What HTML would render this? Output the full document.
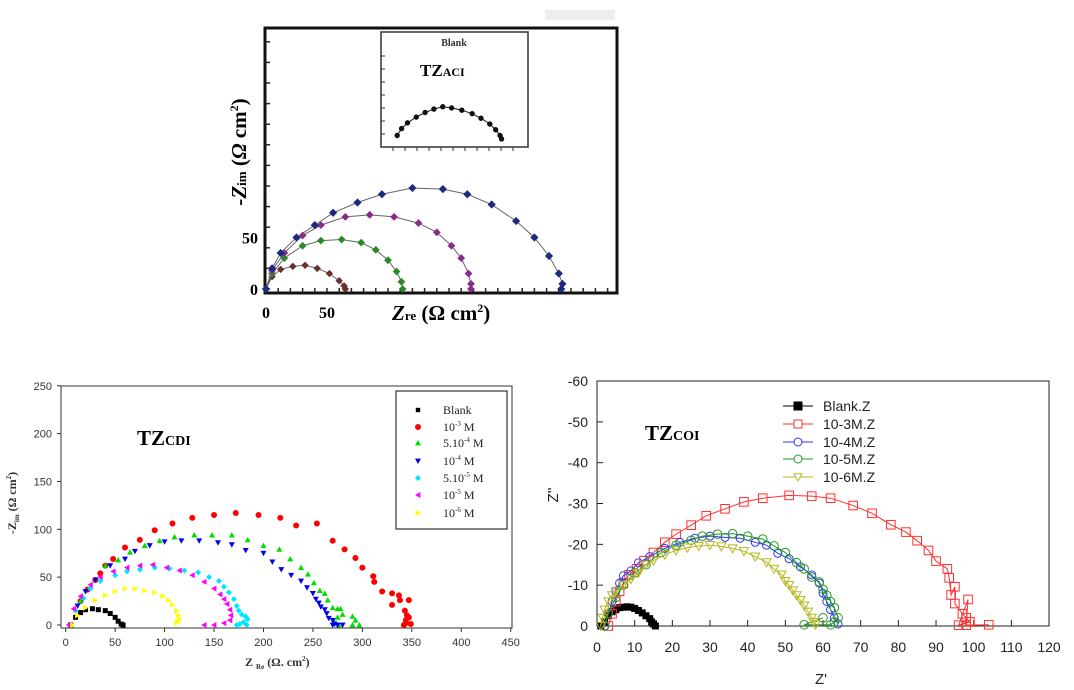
<!DOCTYPE html>
<html><head><meta charset="utf-8"><style>
html,body{margin:0;padding:0;background:#fff;width:1074px;height:690px;overflow:hidden}
svg{display:block}
text{font-family:"Liberation Sans",sans-serif}
.serif{font-family:"Liberation Serif",serif}
</style></head><body>
<svg id="fig" width="1074" height="690" viewBox="0 0 1074 690">
<rect x="545" y="10" width="70" height="10" fill="#eeeeee"/>
<g id="c1"></g>
<g id="c2"></g>
<g id="c3"></g>
</svg>
<script>
// ---------- Chart 1 data (TZ ACI) ----------
const c1XTicks=[0,50];
const c1YTicks=[0,50];
const c1Brown=[[0,0],[5,12],[12,19],[22,22],[32,23],[42,20],[52,15],[60,8],[64,3],[65,0]];
const c1Green=[[0,0],[5,15],[15,30],[30,42],[45,47],[62,48],[78,45],[90,38],[100,28],[107,17],[111,7],[112,0]];
const c1Purple=[[0,0],[5,18],[15,35],[30,52],[45,62],[65,70],[85,72],[105,70],[125,64],[140,55],[152,42],[160,30],[166,15],[168,5],[168,0]];
const c1Blue=[[0,0],[5,20],[12,35],[25,50],[40,62],[55,74],[75,84],[95,92],[120,98],[145,97],[165,92],[185,82],[205,66],[220,50],[232,32],[240,15],[243,5],[242,0]];
const c1Inset=[[11,10],[14,16],[18,21],[24,26],[30,30],[36,33],[42,35],[48,34],[55,32],[62,29],[68,25],[74,20],[78,15],[81,10],[82,7]];
// ---------- Chart 2 data (TZ CDI) ----------
const c2XTicks=[0,50,100,150,200,250,300,350,400,450];
const c2YTicks=[0,50,100,150,200,250];
const c2Blank=[[5,0],[10,8],[15,13],[20,16],[27,17],[33,16],[40,15],[45,12],[50,8],[53,4],[56,1],[58,0]];
const c2M3=[[5,0],[15,25],[22,37],[30,47],[35,54],[40,62],[48,69],[60,81],[75,89],[90,99],[108,106],[128,112],[150,115],[172,117],[195,115],[217,112],[233,104],[254,106],[270,88],[282,79],[293,70],[300,60],[311,51],[312,45],[320,35],[330,33],[337,31],[330,21],[338,26],[347,26],[343,15],[345,10],[344,5],[347,8],[342,0],[349,1],[344,2]];
const c2M54=[[5,0],[15,25],[25,40],[40,62],[53,68],[65,76],[80,83],[95,88],[110,92],[130,94],[148,94],[168,94],[184,89],[200,83],[216,79],[227,69],[238,60],[245,53],[251,44],[257,36],[262,33],[265,26],[270,18],[275,17],[278,17],[280,11],[275,8],[272,3],[290,9],[293,5],[290,0],[297,0],[276,0]];
const c2M4=[[5,0],[12,20],[20,35],[30,47],[45,62],[60,69],[70,77],[85,83],[100,87],[117,88],[135,88],[154,86],[168,84],[182,78],[200,75],[209,66],[218,58],[228,52],[238,46],[244,39],[250,33],[253,27],[256,23],[258,19],[262,16],[264,12],[266,7],[270,5],[272,1],[275,0],[280,0],[270,0]];
const c2M55=[[5,0],[10,15],[18,28],[25,38],[35,46],[50,52],[62,56],[75,58],[90,60],[105,59],[120,57],[134,55],[145,50],[155,46],[160,40],[165,34],[170,27],[173,20],[175,15],[178,11],[182,9],[184,6],[180,3],[176,1],[173,0],[183,0]];
const c2M5=[[3,0],[8,17],[15,30],[25,42],[35,50],[48,56],[62,60],[75,62],[88,63],[102,60],[115,57],[128,52],[140,45],[150,38],[156,32],[160,27],[163,22],[166,16],[167,10],[166,5],[160,2],[150,0],[140,0]];
const c2M6=[[7,0],[12,10],[20,18],[30,26],[40,31],[50,35],[60,38],[70,38],[80,36],[90,34],[98,30],[104,26],[108,21],[112,15],[114,10],[115,6],[113,3],[112,2]];
// ---------- Chart 3 data (TZ COI) ----------
const c3XTicks=[0,10,20,30,40,50,60,70,80,90,100,110,120];
const c3YTicks=[0,-10,-20,-30,-40,-50,-60];
const c3Blank=[[1,0],[2,-1],[3,-2.5],[4,-3.5],[5,-4],[6,-4.5],[7,-4.6],[8,-4.7],[9,-4.6],[10,-4.3],[11,-3.8],[12,-3.2],[13,-2.5],[14,-1.8],[14.5,-1],[15,-0.5],[15.5,0]];
const c3M3=[[3,0],[4,-3],[5,-6],[6,-8.5],[7,-10.5],[8.5,-12.5],[10.5,-14],[12.5,-16],[15,-18],[18,-20.5],[21,-22.5],[25,-24.7],[29,-27],[34,-28.7],[39,-30.4],[44,-31.3],[51,-32],[57,-31.8],[62,-31.3],[68,-29.5],[73,-27.6],[78,-24.8],[82,-23],[85,-20.9],[88,-18.5],[90,-15.9],[93,-14],[93.5,-11.8],[94,-7.6],[95,-9.6],[95,-5.5],[97,-3],[98,-2],[99,-1],[96,-0.2],[98.5,-6.5],[98,-0.2],[104,-0.3]];
const c3M4=[[2,0],[3,-3],[4,-6],[5,-8.5],[6,-10.5],[7,-12.3],[9,-13.5],[11,-15.5],[14,-17],[18,-19],[22,-20.5],[26,-21.5],[30,-22],[34,-21.7],[38,-21.5],[42,-20.5],[45,-19.8],[48,-17.8],[51,-16.5],[54,-14.5],[57,-12.5],[59,-10.5],[60,-8],[61,-6],[62,-4],[63,-2],[64,-0.5]];
const c3M5=[[2,0],[3,-3],[5,-7],[7,-10],[10,-13],[13,-15],[17,-18],[21,-19.8],[25,-21],[28,-22],[32,-22.5],[36,-22.6],[40,-22],[44,-21.3],[47,-19.6],[50,-18],[53,-15.5],[55,-14],[57,-12],[59,-10.8],[60,-9],[61,-7.5],[62,-6],[63,-4.5],[64,-2],[63,-1],[62,-0.3],[55,-0.3],[60,-2]];
const c3M6=[[1,0],[1.5,-2],[2,-4],[3,-6],[4,-7.5],[5,-8.5],[7,-10],[9,-11.5],[11,-13],[13,-15],[15,-16],[18,-17.5],[21,-18.5],[24,-19.2],[27,-19.6],[30,-19.8],[33,-19.5],[36,-19],[39,-18.3],[42,-17],[45,-15.6],[47,-14],[49,-12.6],[50,-11],[51,-10],[52,-8.7],[53,-7.5],[54,-6.3],[55,-5],[56,-3.5],[57,-2],[57.5,-1],[58,-0.3]];

const NS="http://www.w3.org/2000/svg";
function mk(tag,attrs,parent){const e=document.createElementNS(NS,tag);for(const k in attrs)e.setAttribute(k,attrs[k]);parent.appendChild(e);return e;}
function marker(g,shape,x,y,s,fill,stroke){
  let e;
  if(shape==='sq')e=mk('rect',{x:x-s,y:y-s,width:2*s,height:2*s,fill:fill,stroke:stroke},g);
  else if(shape==='ci')e=mk('circle',{cx:x,cy:y,r:s,fill:fill,stroke:stroke},g);
  else{
    let p;
    if(shape==='up')p=[[x,y-s],[x+s,y+s*0.8],[x-s,y+s*0.8]];
    else if(shape==='dn')p=[[x-s,y-s*0.8],[x+s,y-s*0.8],[x,y+s]];
    else if(shape==='lt')p=[[x-s,y],[x+s*0.8,y-s],[x+s*0.8,y+s]];
    else if(shape==='rt')p=[[x+s,y],[x-s*0.8,y-s],[x-s*0.8,y+s]];
    else p=[[x,y-s],[x+s,y],[x,y+s],[x-s,y]];
    e=mk('polygon',{points:p.map(q=>q.join(',')).join(' '),fill:fill,stroke:stroke},g);
  }
  
  
  return e;
}
function series(g,data,sx,sy,shape,s,fill,stroke,line,name){
  const sg=mk('g',{},g);
  
  
  if(line){const pl=mk('polyline',{points:data.map(d=>sx(d[0])+','+sy(d[1])).join(' '),fill:'none',stroke:line,'stroke-width':1},sg);
    
    }
  data.forEach(d=>marker(sg,shape,sx(d[0]),sy(d[1]),s,fill,stroke));
}
function txt(g,x,y,str,attrs,name){const t=mk('text',Object.assign({x:x,y:y},attrs||{}),g);t.textContent=str;
  
  return t;}

// ===== Chart 1 =====
(function(){
  const g=document.getElementById('c1');
  const sx=v=>266+v*1.22, sy=v=>289-v*1.03;
  const fr=mk('rect',{x:265,y:28,width:352,height:265,fill:'none',stroke:'#111','stroke-width':3},g);
  
  
  for(let i=0;i<=28;i++){const x=266+i*12.2;if(x>615)break;mk('line',{x1:x,y1:293,x2:x,y2:288,stroke:'#222','stroke-width':1.5},g);}
  for(let i=0;i<=12;i++){const y=289-i*20.6;if(y<30)break;mk('line',{x1:265,y1:y,x2:270,y2:y,stroke:'#222','stroke-width':1.5},g);}
  c1XTicks.forEach(v=>txt(g,sx(v),318,String(v),{'text-anchor':'middle','font-size':16,'font-weight':'bold',class:'serif'},'x-tick-label'));
  c1YTicks.forEach(v=>txt(g,258,sy(v)+6,String(v),{'text-anchor':'end','font-size':16,'font-weight':'bold',class:'serif'},'y-tick-label'));
  const xt=txt(g,392,320,'',{'font-size':21,'font-weight':'bold',class:'serif'},'x-axis-title');
  xt.innerHTML='<tspan font-style="italic">Z</tspan><tspan font-size="13">re</tspan> (Ω cm<tspan font-size="12" dy="-8">2</tspan><tspan dy="8">)</tspan>';
  const yt=txt(g,0,0,'',{'font-size':21,'font-weight':'bold',class:'serif',transform:'translate(246,152) rotate(-90)','text-anchor':'middle'},'y-axis-title');
  yt.innerHTML='<tspan font-style="italic">-Z</tspan><tspan font-size="13">im</tspan> (<tspan font-style="italic">Ω</tspan> cm<tspan font-size="12" dy="-8">2</tspan><tspan dy="8">)</tspan>';
  series(g,c1Brown,sx,sy,'di',3,'#6b2f2f','#6b2f2f','#666','series-blank');
  series(g,c1Green,sx,sy,'di',3.2,'#2a8a2a','#2a8a2a','#666','series-green');
  series(g,c1Purple,sx,sy,'di',3.2,'#8a2a8a','#8a2a8a','#666','series-purple');
  series(g,c1Blue,sx,sy,'di',3.4,'#1c2a80','#1c2a80','#666','series-blue');
  // inset
  const ig=mk('g',{},g);
  
  
  mk('rect',{x:381,y:32,width:147,height:115,fill:'#fff',stroke:'#333','stroke-width':1.5},ig);
  for(let i=1;i<12;i++)mk('line',{x1:381+i*12,y1:147,x2:381+i*12,y2:151,stroke:'#333'},ig);
  for(let i=1;i<8;i++)mk('line',{x1:381,y1:147-i*13,x2:385,y2:147-i*13,stroke:'#333'},ig);
  const isx=v=>381+v*1.47, isy=v=>147-v*1.15;
  series(ig,c1Inset,isx,isy,'ci',2.2,'#111','#111','#111','inset-series');
  txt(ig,454,46,'Blank',{'text-anchor':'middle','font-size':10,'font-weight':'bold',class:'serif',fill:'#333'},'inset-legend');
  const tz=txt(ig,420,76,'',{'font-size':17,'font-weight':'bold',class:'serif'},'chart-label-tzaci');
  tz.innerHTML='TZ<tspan font-size="12">ACI</tspan>';
})();

// ===== Chart 2 =====
(function(){
  const g=document.getElementById('c2');
  const sx=v=>65.7+v*0.9889, sy=v=>625-v*0.957;
  const fr=mk('rect',{x:61,y:386,width:451,height:242,fill:'none',stroke:'#333','stroke-width':1},g);
  
  
  c2XTicks.forEach(v=>{mk('line',{x1:sx(v),y1:628,x2:sx(v),y2:632,stroke:'#333'},g);
    txt(g,sx(v),646,String(v),{'text-anchor':'middle','font-size':11,fill:'#333'},'x-tick-label');});
  c2YTicks.forEach(v=>{mk('line',{x1:57,y1:sy(v),x2:61,y2:sy(v),stroke:'#333'},g);
    txt(g,52,sy(v)+4,String(v),{'text-anchor':'end','font-size':11,fill:'#333'},'y-tick-label');});
  const xt=txt(g,245,666,'',{'font-size':12,'font-weight':'bold',class:'serif',fill:'#333'},'x-axis-title');
  xt.innerHTML='Z <tspan font-size="7" dy="3">Re</tspan><tspan dy="-3"> (Ω. cm</tspan><tspan font-size="7" dy="-5">2</tspan><tspan dy="5">)</tspan>';
  const yt=txt(g,0,0,'',{'font-size':12,'font-weight':'bold',class:'serif',fill:'#333',transform:'translate(16,503) rotate(-90)','text-anchor':'middle'},'y-axis-title');
  yt.innerHTML='-Z<tspan font-size="7" dy="3">im</tspan><tspan dy="-3"> (Ω cm</tspan><tspan font-size="7" dy="-5">2</tspan><tspan dy="5">)</tspan>';
  const tz=txt(g,137,445,'',{'font-size':21,'font-weight':'bold',class:'serif'},'chart-label-tzcdi');
  tz.innerHTML='TZ<tspan font-size="14">CDI</tspan>';
  const S=[[c2Blank,'sq','#000','Blank','series-blank'],[c2M3,'ci','#ff0000','10<tspan font-size="7" dy="-5">-3</tspan><tspan dy="5"> M</tspan>','series-1e-3'],
    [c2M54,'up','#00dd00','5.10<tspan font-size="7" dy="-5">-4</tspan><tspan dy="5"> M</tspan>','series-5e-4'],[c2M4,'dn','#0000ee','10<tspan font-size="7" dy="-5">-4</tspan><tspan dy="5"> M</tspan>','series-1e-4'],
    [c2M55,'di','#00e5ff','5.10<tspan font-size="7" dy="-5">-5</tspan><tspan dy="5"> M</tspan>','series-5e-5'],[c2M5,'lt','#ff00ff','10<tspan font-size="7" dy="-5">-5</tspan><tspan dy="5"> M</tspan>','series-1e-5'],
    [c2M6,'rt','#ffff00','10<tspan font-size="7" dy="-5">-6</tspan><tspan dy="5"> M</tspan>','series-1e-6']];
  S.forEach(s=>series(g,s[0],sx,sy,s[1],s[1]==='sq'?2.5:3,s[2],'none',null,s[4]));
  const lg=mk('g',{},g);
  
  
  mk('rect',{x:396,y:391,width:111,height:138,fill:'#fff',stroke:'#333','stroke-width':1.2},lg);
  const ly=[410,427,443,461,478,495,513];
  S.forEach((s,i)=>{const m=marker(lg,s[1],418,ly[i],s[1]==='sq'?2.2:3,s[2],'none');
    const t=txt(lg,443,ly[i]+4,'',{'font-size':12,class:'serif',fill:'#222'},'legend-entry');t.innerHTML=s[3];});
})();

// ===== Chart 3 =====
(function(){
  const g=document.getElementById('c3');
  const sx=v=>597+v*3.767, sy=v=>626+v*4.083;
  const fr=mk('rect',{x:597,y:381,width:452,height:245,fill:'none',stroke:'#222','stroke-width':1},g);
  
  
  c3XTicks.forEach(v=>{mk('line',{x1:sx(v),y1:626,x2:sx(v),y2:620,stroke:'#222'},g);
    txt(g,sx(v),652,String(v),{'text-anchor':'middle','font-size':14,fill:'#222'},'x-tick-label');});
  c3YTicks.forEach(v=>{mk('line',{x1:597,y1:sy(v),x2:603,y2:sy(v),stroke:'#222'},g);
    txt(g,588,sy(v)+5,String(v),{'text-anchor':'end','font-size':14,fill:'#222'},'y-tick-label');});
  txt(g,821,684,"Z'",{'text-anchor':'middle','font-size':15,fill:'#222'},'x-axis-title');
  txt(g,0,0,"Z''",{'text-anchor':'middle','font-size':15,fill:'#222',transform:'translate(558,495) rotate(-90)'},'y-axis-title');
  const tz=txt(g,645,440,'',{'font-size':21,'font-weight':'bold',class:'serif'},'chart-label-tzcoi');
  tz.innerHTML='TZ<tspan font-size="14">COI</tspan>';
  const S=[[c3Blank,'sq','#000','#000','Blank.Z','series-blank',3],[c3M3,'sq','none','#ff3030','10-3M.Z','series-1e-3',4.3],
    [c3M4,'ci','none','#3333ff','10-4M.Z','series-1e-4',4],[c3M5,'ci','none','#229922','10-5M.Z','series-1e-5',4.3],[c3M6,'dn','none','#b8b820','10-6M.Z','series-1e-6',4.5]];
  S.forEach(s=>series(g,s[0],sx,sy,s[1],s[6],s[2],s[3],s[3],s[5]));
  const lg=mk('g',{},g);
  
  
  const ly=[406,424,442,459,477];
  S.forEach((s,i)=>{mk('line',{x1:783,y1:ly[i],x2:813,y2:ly[i],stroke:s[3]},lg);
    marker(lg,s[1],798,ly[i],s[1]==='sq'&&i==0?4:4,s[2]==='none'?'#fff':s[2],s[3]);
    txt(lg,823,ly[i]+5,s[4],{'font-size':14,fill:'#222'},'legend-entry');});
})();
</script>
</body></html>
